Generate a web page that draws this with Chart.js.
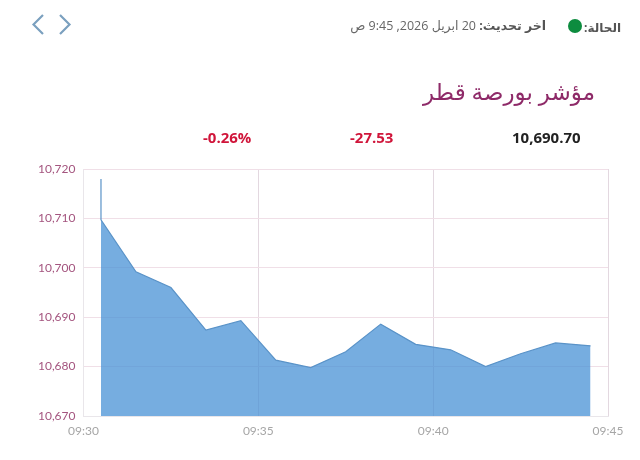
<!DOCTYPE html>
<html lang="ar">
<head>
<meta charset="utf-8">
<script src="https://cdn.jsdelivr.net/npm/chart.js@4"></script>
<style>
html,body{margin:0;padding:0;background:#fff;width:640px;height:460px;overflow:hidden}
#wrap{position:relative;width:640px;height:460px}
canvas{position:absolute;left:0;top:0}
.t{position:absolute;white-space:nowrap;font-family:"Open Sans","DejaVu Sans",sans-serif}
.dot{position:absolute;left:568px;top:19px;width:14px;height:14px;border-radius:50%;background:#0d8c3f}
svg{position:absolute;left:0;top:0}
</style>
</head>
<body>
<div id="wrap">
<canvas id="c" width="640" height="460"></canvas>
<svg width="100" height="50"><path d="M43 15 L33.500 24.500 L43 34 M60 15 L69.500 24.500 L60 34" fill="none" stroke="#7ba0bf" stroke-width="2.200"/></svg>
<div class="t" dir="rtl" style="right:19px;top:19px;font-size:12px;font-weight:700;color:#555">الحالة:</div>
<div class="dot"></div>
<div class="t" dir="rtl" style="right:94px;top:17px;font-size:12.500px;color:#666"><b style="color:#555">اخر تحديث:</b> 20 ابريل 2026, 9:45 ص</div>
<div class="t" dir="rtl" style="right:45px;top:75px;font-size:23px;color:#8e2a68">مؤشر بورصة قطر</div>
<div class="t" style="left:512px;top:127px;font-size:15px;font-weight:700;color:#222">10,690.70</div>
<div class="t" style="left:350px;top:127px;font-size:15px;font-weight:700;color:#d0153a">-27.53</div>
<div class="t" style="left:203px;top:127px;font-size:15px;font-weight:700;color:#d0153a">-0.26%</div>
</div>
<script>
const minutes = [0.5, 0.5, 1.5, 2.5, 3.5, 4.5, 5.5, 6.5, 7.5, 8.5, 9.5, 10.5, 11.5, 12.5, 13.5, 14.5];
const values = [10718, 10709.7, 10699.2, 10696, 10687.4, 10689.3, 10681.3, 10679.8, 10683, 10688.6, 10684.5, 10683.4, 10680, 10682.6, 10684.8, 10684.2];
const timeLabels = ["09:30", "09:35", "09:40", "09:45"];
const yTicks = [10670, 10680, 10690, 10700, 10710, 10720];

new Chart(document.getElementById('c'), {
  type: 'line',
  data: {
    datasets: [{
      data: minutes.map((m, i) => ({x: m, y: values[i]})),
      borderColor: '#5a93c8',
      borderWidth: 1.2,
      backgroundColor: 'rgba(72,145,214,0.75)',
      fill: 'origin',
      pointRadius: 0,
      tension: 0
    }]
  },
  options: {
    responsive: false,
    animation: false,
    devicePixelRatio: 1,
    layout: {padding: {top: 169, right: 32, bottom: 0, left: 0}},
    plugins: {legend: {display: false}, tooltip: {enabled: false}},
    scales: {
      x: {
        type: 'linear', min: 0, max: 15,
        afterFit(s) { s.height = 44; },
        afterBuildTicks(s) { s.ticks = timeLabels.map((_, i) => ({value: i * 5})); },
        grid: {color: '#e3d8e0', lineWidth: 1, drawTicks: false, drawOnChartArea: true},
        border: {color: '#e9e6ea'},
        ticks: {
          padding: 8, maxRotation: 0, color: '#a6a6a6',
          font: {family: 'Lato', size: 12},
          callback: v => timeLabels[v / 5]
        }
      },
      y: {
        min: 10670, max: 10720,
        afterFit(s) { s.width = 83.500; },
        afterBuildTicks(s) { s.ticks = yTicks.map(v => ({value: v})); },
        grid: {color: '#f0dfe7', lineWidth: 1, drawTicks: false},
        border: {color: '#e9e6ea'},
        ticks: {
          padding: 8, color: '#a4557f',
          font: {family: 'Lato', size: 12},
          callback: v => v.toLocaleString('en-US')
        }
      }
    }
  }
});
</script>
</body>
</html>
